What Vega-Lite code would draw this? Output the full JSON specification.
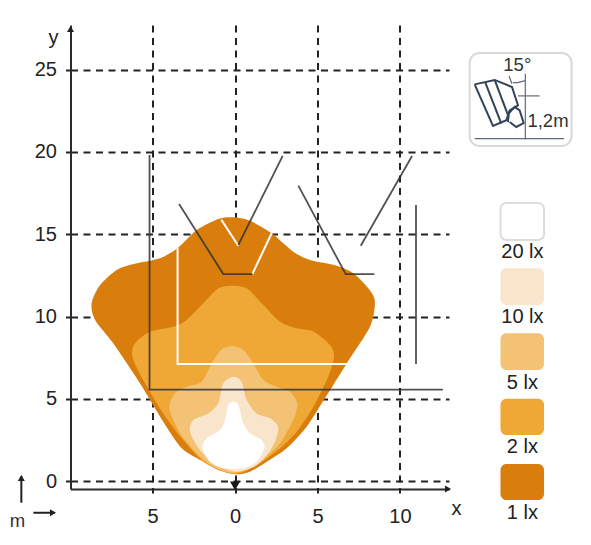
{"$schema":"https://vega.github.io/schema/vega-lite/v6.json","width":378.5,"height":464,"autosize":"none","padding":{"left":70.5,"top":25,"right":142,"bottom":56},"background":"white","config":{"view":{"stroke":null},"font":"Liberation Sans"},
"datasets":{"contours":[
{"lux":"1 lx","i":1,"x":-0.1,"y":16.03},{"lux":"1 lx","i":2,"x":0.91,"y":15.82},{"lux":"1 lx","i":3,"x":2.22,"y":15.06},{"lux":"1 lx","i":4,"x":3.53,"y":13.94},{"lux":"1 lx","i":5,"x":4.55,"y":13.43},{"lux":"1 lx","i":6,"x":6.16,"y":13.09},{"lux":"1 lx","i":7,"x":7.17,"y":12.63},{"lux":"1 lx","i":8,"x":8.08,"y":11.71},{"lux":"1 lx","i":9,"x":8.48,"y":10.9},{"lux":"1 lx","i":10,"x":8.18,"y":9.38},{"lux":"1 lx","i":11,"x":6.77,"y":7.15},{"lux":"1 lx","i":12,"x":5.45,"y":5.03},{"lux":"1 lx","i":13,"x":4.34,"y":3.3},{"lux":"1 lx","i":14,"x":3.13,"y":1.99},{"lux":"1 lx","i":15,"x":1.92,"y":1.17},{"lux":"1 lx","i":16,"x":0.91,"y":0.57},{"lux":"1 lx","i":17,"x":0,"y":0.41},{"lux":"1 lx","i":18,"x":-1.01,"y":0.67},{"lux":"1 lx","i":19,"x":-1.92,"y":1.17},{"lux":"1 lx","i":20,"x":-3.23,"y":1.99},{"lux":"1 lx","i":21,"x":-4.35,"y":3.6},{"lux":"1 lx","i":22,"x":-5.76,"y":5.94},{"lux":"1 lx","i":23,"x":-7.38,"y":8.37},{"lux":"1 lx","i":24,"x":-8.48,"y":9.79},{"lux":"1 lx","i":25,"x":-8.69,"y":10.8},{"lux":"1 lx","i":26,"x":-8.18,"y":11.91},{"lux":"1 lx","i":27,"x":-7.17,"y":12.83},{"lux":"1 lx","i":28,"x":-6.16,"y":13.19},{"lux":"1 lx","i":29,"x":-4.55,"y":13.54},{"lux":"1 lx","i":30,"x":-3.44,"y":14.2},{"lux":"1 lx","i":31,"x":-2.32,"y":15.26},{"lux":"1 lx","i":32,"x":-1.01,"y":15.93},
{"lux":"2 lx","i":1,"x":-0.2,"y":11.87},{"lux":"2 lx","i":2,"x":0.71,"y":11.71},{"lux":"2 lx","i":3,"x":1.72,"y":10.7},{"lux":"2 lx","i":4,"x":2.73,"y":9.68},{"lux":"2 lx","i":5,"x":3.74,"y":9.28},{"lux":"2 lx","i":6,"x":4.76,"y":9.08},{"lux":"2 lx","i":7,"x":5.76,"y":8.27},{"lux":"2 lx","i":8,"x":6.0,"y":7.56},{"lux":"2 lx","i":9,"x":5.65,"y":6.34},{"lux":"2 lx","i":10,"x":4.75,"y":4.52},{"lux":"2 lx","i":11,"x":3.74,"y":3.0},{"lux":"2 lx","i":12,"x":2.73,"y":1.99},{"lux":"2 lx","i":13,"x":1.52,"y":1.08},{"lux":"2 lx","i":14,"x":0.71,"y":0.63},{"lux":"2 lx","i":15,"x":-0.1,"y":0.43},{"lux":"2 lx","i":16,"x":-0.91,"y":0.67},{"lux":"2 lx","i":17,"x":-1.92,"y":1.17},{"lux":"2 lx","i":18,"x":-3.23,"y":2.6},{"lux":"2 lx","i":19,"x":-4.35,"y":4.1},{"lux":"2 lx","i":20,"x":-5.56,"y":6.14},{"lux":"2 lx","i":21,"x":-6.22,"y":7.56},{"lux":"2 lx","i":22,"x":-6.06,"y":8.37},{"lux":"2 lx","i":23,"x":-5.15,"y":9.08},{"lux":"2 lx","i":24,"x":-3.74,"y":9.38},{"lux":"2 lx","i":25,"x":-2.93,"y":9.79},{"lux":"2 lx","i":26,"x":-1.92,"y":10.8},{"lux":"2 lx","i":27,"x":-1.01,"y":11.71},
{"lux":"5 lx","i":1,"x":-0.16,"y":8.21},{"lux":"5 lx","i":2,"x":0.5,"y":7.96},{"lux":"5 lx","i":3,"x":1.11,"y":7.15},{"lux":"5 lx","i":4,"x":1.72,"y":6.14},{"lux":"5 lx","i":5,"x":2.53,"y":5.73},{"lux":"5 lx","i":6,"x":3.33,"y":5.43},{"lux":"5 lx","i":7,"x":3.78,"y":4.72},{"lux":"5 lx","i":8,"x":3.53,"y":3.71},{"lux":"5 lx","i":9,"x":2.73,"y":2.29},{"lux":"5 lx","i":10,"x":1.92,"y":1.48},{"lux":"5 lx","i":11,"x":1.11,"y":0.87},{"lux":"5 lx","i":12,"x":-0.1,"y":0.5},{"lux":"5 lx","i":13,"x":-1.31,"y":0.87},{"lux":"5 lx","i":14,"x":-2.32,"y":1.68},{"lux":"5 lx","i":15,"x":-3.33,"y":2.9},{"lux":"5 lx","i":16,"x":-3.98,"y":4.42},{"lux":"5 lx","i":17,"x":-3.64,"y":5.33},{"lux":"5 lx","i":18,"x":-2.93,"y":5.73},{"lux":"5 lx","i":19,"x":-2.02,"y":6.04},{"lux":"5 lx","i":20,"x":-1.41,"y":7.15},{"lux":"5 lx","i":21,"x":-0.81,"y":8.0},
{"lux":"10 lx","i":1,"x":-0.1,"y":6.34},{"lux":"10 lx","i":2,"x":0.4,"y":6.04},{"lux":"10 lx","i":3,"x":0.71,"y":4.92},{"lux":"10 lx","i":4,"x":1.31,"y":4.11},{"lux":"10 lx","i":5,"x":2.12,"y":3.81},{"lux":"10 lx","i":6,"x":2.63,"y":3.2},{"lux":"10 lx","i":7,"x":2.22,"y":1.99},{"lux":"10 lx","i":8,"x":1.31,"y":0.97},{"lux":"10 lx","i":9,"x":0.1,"y":0.57},{"lux":"10 lx","i":10,"x":-1.11,"y":0.97},{"lux":"10 lx","i":11,"x":-2.12,"y":1.88},{"lux":"10 lx","i":12,"x":-2.73,"y":3.0},{"lux":"10 lx","i":13,"x":-2.53,"y":3.71},{"lux":"10 lx","i":14,"x":-1.62,"y":4.11},{"lux":"10 lx","i":15,"x":-1.01,"y":4.72},{"lux":"10 lx","i":16,"x":-0.71,"y":5.94},
{"lux":"20 lx","i":1,"x":-0.14,"y":4.82},{"lux":"20 lx","i":2,"x":0.2,"y":4.62},{"lux":"20 lx","i":3,"x":0.5,"y":3.51},{"lux":"20 lx","i":4,"x":0.91,"y":2.9},{"lux":"20 lx","i":5,"x":1.62,"y":2.49},{"lux":"20 lx","i":6,"x":1.78,"y":1.99},{"lux":"20 lx","i":7,"x":1.31,"y":1.17},{"lux":"20 lx","i":8,"x":0.5,"y":0.77},{"lux":"20 lx","i":9,"x":-0.71,"y":0.77},{"lux":"20 lx","i":10,"x":-1.52,"y":1.17},{"lux":"20 lx","i":11,"x":-1.98,"y":1.99},{"lux":"20 lx","i":12,"x":-1.72,"y":2.6},{"lux":"20 lx","i":13,"x":-0.91,"y":3.1},{"lux":"20 lx","i":14,"x":-0.61,"y":3.71},{"lux":"20 lx","i":15,"x":-0.41,"y":4.62}],
"swatches":[{"lux":"20 lx","x":16.09,"x2":18.73,"y":16.9,"y2":14.65,"ly":13.94,"lx":17.42},{"lux":"10 lx","x":16.09,"x2":18.73,"y":12.93,"y2":10.7,"ly":9.97,"lx":17.42},{"lux":"5 lx","x":16.09,"x2":18.73,"y":8.98,"y2":6.75,"ly":5.98,"lx":17.42},{"lux":"2 lx","x":16.09,"x2":18.73,"y":5.0,"y2":2.8,"ly":2.07,"lx":17.42},{"lux":"1 lx","x":16.09,"x2":18.73,"y":1.03,"y2":-1.16,"ly":-1.95,"lx":17.42}],
"white":[{"id":"b","i":1,"x":1.05,"y":12.58},{"id":"b","i":2,"x":2.22,"y":15.06},{"id":"c","i":1,"x":-0.83,"y":15.88},{"id":"c","i":2,"x":0.2,"y":14.3},{"id":"w","i":1,"x":-3.48,"y":14.2},{"id":"w","i":2,"x":-3.48,"y":7.11},{"id":"w","i":3,"x":7.5,"y":7.11}],
"dark":[{"id":"L","i":1,"x":-5.18,"y":19.82},{"id":"L","i":2,"x":-5.18,"y":5.56},{"id":"L","i":3,"x":12.6,"y":5.56},{"id":"a","i":1,"x":-3.39,"y":16.84},{"id":"a","i":2,"x":-0.71,"y":12.58},{"id":"a","i":3,"x":1.05,"y":12.58},{"id":"d","i":1,"x":0.2,"y":14.35},{"id":"d","i":2,"x":2.89,"y":19.76},{"id":"e","i":1,"x":3.84,"y":17.96},{"id":"e","i":2,"x":6.71,"y":12.57},{"id":"e","i":3,"x":8.44,"y":12.57},{"id":"f","i":1,"x":7.62,"y":14.3},{"id":"f","i":2,"x":10.73,"y":19.76},{"id":"r","i":1,"x":10.97,"y":16.78},{"id":"r","i":2,"x":10.97,"y":7.11}],
"guide":[{"id":"mv","i":1,"x":-12.95,"y":-1.32},{"id":"mv","i":2,"x":-12.95,"y":0.3},{"id":"mh","i":1,"x":-12.22,"y":-1.93},{"id":"mh","i":2,"x":-10.97,"y":-1.93}],
"lamp":[{"id":"o","i":1,"x":14.525,"y":24.11},{"id":"o","i":2,"x":15.737,"y":24.38},{"id":"o","i":3,"x":16.788,"y":23.95},{"id":"o","i":4,"x":17.151,"y":22.84},{"id":"o","i":5,"x":16.646,"y":22.53},{"id":"o","i":6,"x":16.444,"y":21.93},{"id":"o","i":7,"x":15.636,"y":21.58},{"id":"o","i":8,"x":14.525,"y":24.11},{"id":"n1","i":1,"x":15.172,"y":24.22},{"id":"n1","i":2,"x":16.141,"y":21.72},{"id":"n2","i":1,"x":15.737,"y":24.38},{"id":"n2","i":2,"x":16.586,"y":22.13},{"id":"c","i":1,"x":16.545,"y":21.82},{"id":"c","i":2,"x":16.586,"y":22.33},{"id":"c","i":3,"x":16.949,"y":22.74},{"id":"c","i":4,"x":17.252,"y":22.53},{"id":"c","i":5,"x":17.495,"y":21.76},{"id":"c","i":6,"x":17.05,"y":21.52},{"id":"c","i":7,"x":16.646,"y":21.82}],
"fixture":[{"id":"v","i":1,"x":17.596,"y":24.76},{"id":"v","i":2,"x":17.596,"y":20.77},{"id":"h","i":1,"x":17.151,"y":23.41},{"id":"h","i":2,"x":18.464,"y":23.41},{"id":"g","i":1,"x":14.525,"y":20.81},{"id":"g","i":2,"x":19.939,"y":20.81},{"id":"t","i":1,"x":16.606,"y":24.62},{"id":"t","i":2,"x":16.788,"y":24.15},{"id":"ar","i":1,"x":16.848,"y":24.22},{"id":"ar","i":2,"x":17.151,"y":24.22},{"id":"ar","i":3,"x":17.596,"y":24.34}],
"notes":[{"t":"15°","x":17.11,"y":25.27,"s":"a"},{"t":"1,2m","x":18.97,"y":21.87,"s":"a"},{"t":"m","x":-13.19,"y":-2.41,"s":"b"}]},
"encoding":{"x":{"field":"x","type":"quantitative","scale":{"domain":[-9.97,12.97],"nice":false,"zero":false}},"y":{"field":"y","type":"quantitative","scale":{"domain":[-0.486,27.72],"nice":false,"zero":false}}},
"layer":[
{"data":{"name":"contours"},"transform":[{"filter":"datum.lux=='1 lx'"}],"mark":{"type":"line","interpolate":"cardinal-closed","tension":0.2,"strokeWidth":0,"fill":"#D97E0D"},"encoding":{"order":{"field":"i"},"x":{"field":"x","type":"quantitative","axis":{"values":[-5,0,5,10],"labelExpr":"abs(datum.value)","grid":true,"gridDash":[7,5.5],"gridColor":"#222","gridWidth":2,"tickColor":"#222","tickWidth":2,"tickSize":4,"domainColor":"#2b2b2b","domainWidth":2,"labelFontSize":20,"labelColor":"#222","labelPadding":13,"title":"x","titleX":385.5,"titleY":19,"titleFontSize":20,"titleFontWeight":"normal","titleColor":"#222","titleAlign":"center","titleBaseline":"middle"}},"y":{"field":"y","type":"quantitative","axis":{"values":[0,5,10,15,20,25],"grid":true,"gridDash":[7,5.5],"gridColor":"#222","gridWidth":2,"tickColor":"#222","tickWidth":2,"tickSize":5,"domainColor":"#2b2b2b","domainWidth":2,"labelFontSize":20,"labelColor":"#222","labelPadding":9,"title":"y","titleX":-17.5,"titleY":12,"titleAngle":0,"titleFontSize":20,"titleFontWeight":"normal","titleColor":"#222","titleAlign":"center","titleBaseline":"middle"}}}},
{"data":{"name":"contours"},"transform":[{"filter":"datum.lux=='2 lx'"}],"mark":{"type":"line","interpolate":"cardinal-closed","tension":0.2,"strokeWidth":0,"fill":"#EFA836"},"encoding":{"order":{"field":"i"}}},
{"data":{"name":"contours"},"transform":[{"filter":"datum.lux=='5 lx'"}],"mark":{"type":"line","interpolate":"cardinal-closed","tension":0.2,"strokeWidth":0,"fill":"#F3C274"},"encoding":{"order":{"field":"i"}}},
{"data":{"name":"contours"},"transform":[{"filter":"datum.lux=='10 lx'"}],"mark":{"type":"line","interpolate":"cardinal-closed","tension":0.2,"strokeWidth":0,"fill":"#F9E5CC"},"encoding":{"order":{"field":"i"}}},
{"data":{"name":"contours"},"transform":[{"filter":"datum.lux=='20 lx'"}],"mark":{"type":"line","interpolate":"cardinal-closed","tension":0.2,"strokeWidth":0,"fill":"#FFFFFF"},"encoding":{"order":{"field":"i"}}},
{"data":{"name":"white"},"mark":{"type":"line","stroke":"#FFFFFF","strokeWidth":2},"encoding":{"detail":{"field":"id"},"order":{"field":"i"}}},
{"data":{"name":"dark"},"mark":{"type":"line","stroke":"#333","strokeWidth":1.8,"opacity":0.85},"encoding":{"detail":{"field":"id"},"order":{"field":"i"}}},
{"data":{"values":[{"x":-9.97,"y":27.48},{"x":-12.95,"y":0.18}]},"mark":{"type":"point","shape":"triangle-up","filled":true,"fill":"#222","stroke":null,"opacity":1,"size":50}},
{"data":{"values":[{"x":12.91,"y":-0.486},{"x":-11.03,"y":-1.93}]},"mark":{"type":"point","shape":"triangle-right","filled":true,"fill":"#222","stroke":null,"opacity":1,"size":50}},
{"data":{"values":[{"x":0,"y":-0.3}]},"mark":{"type":"point","shape":"triangle-down","filled":true,"fill":"#1a1a1a","stroke":null,"opacity":1,"size":100}},
{"data":{"name":"guide"},"mark":{"type":"line","stroke":"#222","strokeWidth":2},"encoding":{"detail":{"field":"id"},"order":{"field":"i"}}},
{"data":{"values":[{"x":14.22,"x2":20.4,"y":26.02,"y2":20.36}]},"mark":{"type":"rect","fill":"white","stroke":"#d9d9d9","strokeWidth":2,"cornerRadius":10},"encoding":{"x2":{"field":"x2"},"y2":{"field":"y2"}}},
{"data":{"name":"lamp"},"mark":{"type":"line","stroke":"#33435a","strokeWidth":2},"encoding":{"detail":{"field":"id"},"order":{"field":"i"}}},
{"data":{"name":"fixture"},"mark":{"type":"line","stroke":"#5d6b7c","strokeWidth":1.2},"encoding":{"detail":{"field":"id"},"order":{"field":"i"}}},
{"data":{"name":"notes"},"mark":{"type":"text","fontSize":18.5,"fill":"#333"},"encoding":{"text":{"field":"t"}}},
{"data":{"name":"swatches"},"mark":{"type":"rect","stroke":"#dcdcdc","cornerRadius":6},"encoding":{"x2":{"field":"x2"},"y2":{"field":"y2"},"fill":{"field":"lux","type":"nominal","legend":null,"scale":{"domain":["1 lx","2 lx","5 lx","10 lx","20 lx"],"range":["#D97E0D","#EFA836","#F3C274","#F9E5CC","#FFFFFF"]}},"strokeWidth":{"condition":{"test":"datum.lux=='20 lx'","value":2},"value":0}}},
{"data":{"name":"swatches"},"mark":{"type":"text","fontSize":20,"fill":"#222"},"encoding":{"x":{"field":"lx","type":"quantitative"},"y":{"field":"ly","type":"quantitative"},"text":{"field":"lux"}}}
]}
